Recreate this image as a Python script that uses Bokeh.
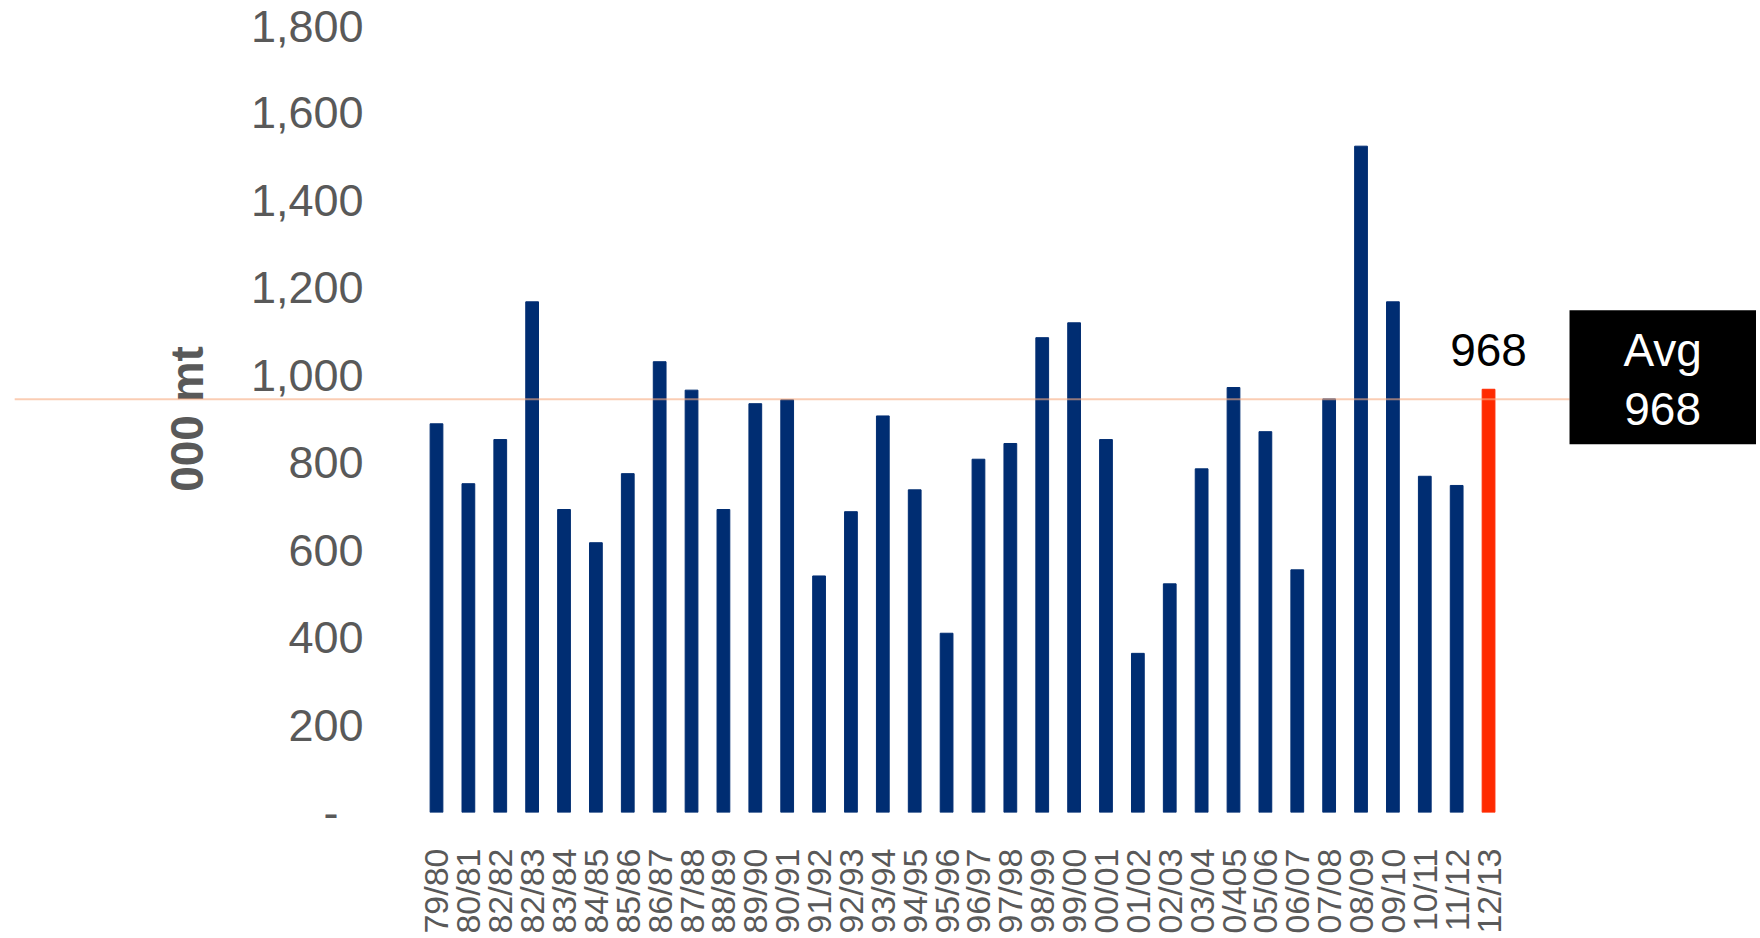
import math
from bokeh.plotting import figure
from bokeh.models import (Range1d, FixedTicker, NumeralTickFormatter, Arrow,
                          BoxAnnotation, Label, ColumnDataSource)
from bokeh.core.properties import value
from bokeh.embed import file_html
from bokeh.resources import INLINE

# ---- data ----
seasons = ["79/80", "80/81", "82/82", "82/83", "83/84", "84/85", "85/86", "86/87",
           "87/88", "88/89", "89/90", "90/91", "91/92", "92/93", "93/94", "94/95",
           "95/96", "96/97", "97/98", "98/99", "99/00", "00/01", "01/02", "02/03",
           "03/04", "0/405", "05/06", "06/07", "07/08", "08/09", "09/10", "10/11",
           "11/12", "12/13"]
production = [889, 752, 853, 1168, 693, 617, 775, 1031, 966, 693, 935, 944, 541, 688,
              907, 738, 410, 808, 844, 1086, 1120, 853, 364, 523, 786, 972, 871, 555,
              946, 1524, 1168, 769, 748, 968]
highlight_season = "12/13"
avg_value_label = 968
avg_line_level = 945
y_ticks = [0, 200, 400, 600, 800, 1000, 1200, 1400, 1600, 1800]

# ---- style ----
FONT = "Liberation Sans"
GREY = "#595959"
NAVY = "#002D72"
RED = "#FF2A00"
PEACH = "#F7AC82"

x = list(range(len(seasons)))
colors = [RED if s == highlight_season else NAVY for s in seasons]
src = ColumnDataSource(dict(x=x, top=production, color=colors))

p = figure(width=1756, height=936, output_backend="svg", toolbar_location=None,
           x_range=Range1d(-13.237, 41.405), y_range=Range1d(0, 1800),
           min_border_left=14, min_border_right=0, min_border_top=25,
           min_border_bottom=124, title=None)
p.outline_line_color = None
p.xgrid.visible = False
p.ygrid.visible = False
p.background_fill_color = "white"
p.border_fill_color = "white"

p.vbar(x="x", top="top", bottom=0, width=0.4, fill_color="color",
       line_color="color", source=src)

# y axis (labels pulled inward to sit left of the bars)
ya = p.yaxis[0]
ya.ticker = FixedTicker(ticks=y_ticks)
ya.formatter = NumeralTickFormatter(format="0,0")
ya.major_label_overrides = {0: "-\u00a0\u00a0"}
ya.axis_line_color = None
ya.major_tick_line_color = None
ya.minor_tick_line_color = None
ya.major_tick_out = 0
ya.major_tick_in = 0
ya.major_label_standoff = -349
ya.major_label_text_font = FONT
ya.major_label_text_font_size = "45px"
ya.major_label_text_color = GREY
ya.axis_label = "000 mt"
ya.axis_label_text_font = FONT
ya.axis_label_text_font_size = "46px"
ya.axis_label_text_font_style = "bold"
ya.axis_label_text_color = GREY
ya.axis_label_standoff = 35

# x axis
xa = p.xaxis[0]
xa.ticker = FixedTicker(ticks=x)
xa.major_label_overrides = {i: s for i, s in enumerate(seasons)}
xa.major_label_orientation = math.pi / 2
xa.axis_line_color = None
xa.major_tick_line_color = None
xa.minor_tick_line_color = None
xa.major_tick_out = 0
xa.major_tick_in = 0
xa.major_label_standoff = 36
xa.major_label_text_font = FONT
xa.major_label_text_font_size = "34px"
xa.major_label_text_color = GREY

# average line
p.add_layout(Arrow(start=None, end=None, x_start=-13.24, y_start=avg_line_level,
                   x_end=35.54, y_end=avg_line_level, line_color=PEACH,
                   line_alpha=0.6, line_width=2))

# value label above highlighted bar
hi = seasons.index(highlight_season)
p.text(x=[hi], y=[production[hi]], text=[f"{production[hi]:,}"],
       text_font=value(FONT), text_font_size="46px", text_color="black",
       text_align="center", text_baseline="alphabetic", y_offset=-39)

# Avg box
p.add_layout(BoxAnnotation(left=35.54, right=41.405, top=1149, bottom=842,
                           fill_color="black", fill_alpha=1.0, line_color=None))
p.add_layout(Label(x=38.46, y=1057, text="Avg", text_color="white",
                   text_font=FONT, text_font_size="46px", text_align="center",
                   text_baseline="alphabetic"))
p.add_layout(Label(x=38.46, y=924, text=f"{avg_value_label}", text_color="white",
                   text_font=FONT, text_font_size="46px", text_align="center",
                   text_baseline="alphabetic"))

open("out.html", "w").write(file_html(p, INLINE))
